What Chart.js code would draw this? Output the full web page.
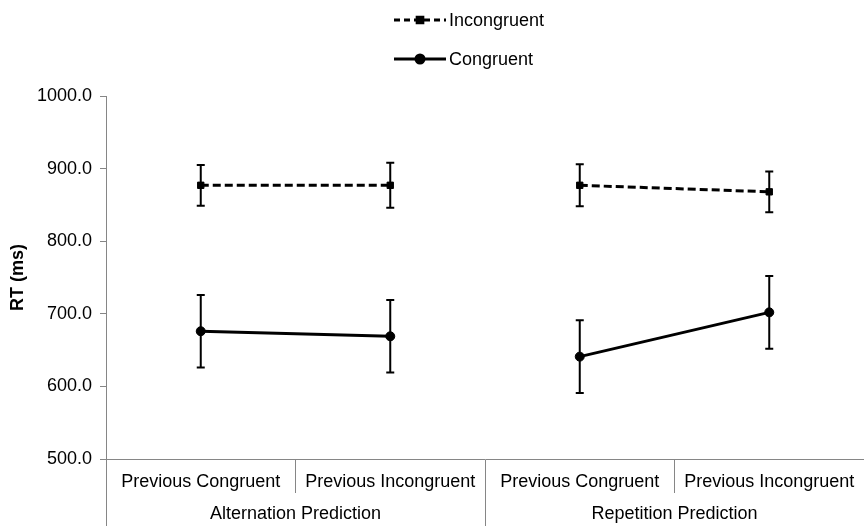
<!DOCTYPE html>
<html><head><meta charset="utf-8">
<script src="https://cdn.jsdelivr.net/npm/chart.js@4/dist/chart.umd.min.js"></script>
<style>html,body{margin:0;padding:0;background:#fff;overflow:hidden}#wrap{width:864px;height:526px;position:relative}canvas{display:block}</style>
</head><body><div id="wrap"><canvas id="c"></canvas></div>
<script>
const categories = ['Previous Congruent', 'Previous Incongruent', 'Previous Congruent', 'Previous Incongruent'];
const groups = ['Alternation Prediction', 'Repetition Prediction'];
const seriesNames = ['Incongruent', 'Congruent'];
const incongruentRT = [877, 877, 877, 868];
const incongruentErr = [28, 31, 29, 28];
const congruentRT = [676, 669, 641, 702];
const congruentErr = [50, 50, 50, 50];
const yTicks = [500, 600, 700, 800, 900, 1000];

const FONT = "'Liberation Sans', Arial, sans-serif";
const AXIS = '#868686';

const errorBars = {
  id: 'errorBars',
  afterDatasetsDraw(chart) {
    const ctx = chart.ctx, xs = chart.scales.x, ys = chart.scales.y;
    chart.data.datasets.forEach(ds => {
      if (!ds.errors) return;
      ctx.save();
      ctx.strokeStyle = '#000';
      ctx.lineWidth = 2;
      ctx.setLineDash([]);
      ds.data.forEach((v, i) => {
        const e = ds.errors[i];
        const x = xs.getPixelForValue(i);
        const y1 = ys.getPixelForValue(v + e), y2 = ys.getPixelForValue(v - e);
        ctx.beginPath();
        ctx.moveTo(x, y1); ctx.lineTo(x, y2);
        ctx.moveTo(x - 4, y1); ctx.lineTo(x + 4, y1);
        ctx.moveTo(x - 4, y2); ctx.lineTo(x + 4, y2);
        ctx.stroke();
      });
      ctx.restore();
    });
  }
};

const stackedLegend = {
  id: 'stackedLegend',
  afterDraw(chart, args, opts) {
    const ctx = chart.ctx;
    chart.data.datasets.forEach((ds, i) => {
      const y = opts.y[i];
      const x0 = opts.x, x1 = opts.x + opts.w;
      ctx.save();
      ctx.strokeStyle = ds.borderColor;
      ctx.lineWidth = ds.borderWidth;
      ctx.setLineDash(ds.legendDash || []);
      ctx.beginPath(); ctx.moveTo(x0, y); ctx.lineTo(x1, y); ctx.stroke();
      ctx.setLineDash([]);
      ctx.fillStyle = '#000'; ctx.strokeStyle = '#000';
      Chart.helpers.drawPoint(ctx, {pointStyle: ds.pointStyle, radius: 4, borderWidth: 1, rotation: 0}, (x0 + x1) / 2, y);
      ctx.fillStyle = '#000';
      ctx.font = '18px ' + FONT;
      ctx.textAlign = 'left';
      ctx.textBaseline = 'middle';
      ctx.fillText(ds.label, x1 + 3, y + 1);
      ctx.restore();
    });
  }
};

const hideGap = ctx => ctx.p0DataIndex === 1 ? 'rgba(0,0,0,0)' : undefined;

new Chart(document.getElementById('c'), {
  type: 'line',
  data: {
    labels: categories,
    datasets: [
      {
        label: seriesNames[0], data: incongruentRT, errors: incongruentErr,
        borderColor: '#000', backgroundColor: '#000', borderWidth: 3,
        borderDash: [8, 4], legendDash: [6, 4],
        pointStyle: 'rect', pointRadius: 4.5, pointBorderWidth: 1,
        segment: {borderColor: hideGap}
      },
      {
        label: seriesNames[1], data: congruentRT, errors: congruentErr,
        borderColor: '#000', backgroundColor: '#000', borderWidth: 3,
        pointStyle: 'circle', pointRadius: 4.5, pointBorderWidth: 1,
        segment: {borderColor: hideGap}
      }
    ]
  },
  options: {
    responsive: true, maintainAspectRatio: false, animation: false,
    layout: {autoPadding: false, padding: {top: 96, left: 0, right: 0, bottom: 0}},
    plugins: {
      legend: {display: false}, tooltip: {enabled: false},
      stackedLegend: {x: 394, w: 52, y: [20, 59]}
    },
    scales: {
      x: {
        type: 'category', offset: true, position: 'bottom',
        grid: {offset: true, drawOnChartArea: false, drawTicks: true, tickLength: 34, color: AXIS, lineWidth: 1},
        border: {display: true, color: AXIS, width: 1},
        ticks: {color: '#000', font: {family: FONT, size: 18}, padding: -21.8, maxRotation: 0, autoSkip: false},
        afterFit: s => { s.height = 34; s.paddingLeft = 0; s.paddingRight = 0; }
      },
      x2: {
        type: 'category', labels: groups, offset: true, position: 'bottom',
        grid: {offset: true, drawOnChartArea: false, drawTicks: true, tickLength: 33, color: AXIS, lineWidth: 1},
        border: {display: false},
        ticks: {color: '#000', font: {family: FONT, size: 18}, padding: -22.8, maxRotation: 0, autoSkip: false},
        afterFit: s => { s.height = 33; s.paddingLeft = 0; s.paddingRight = 0; }
      },
      y: {
        min: 500, max: 1000,
        grid: {display: true, drawOnChartArea: false, drawTicks: true, tickLength: 6, color: AXIS},
        border: {display: true, color: AXIS, width: 1},
        ticks: {color: '#000', font: {family: FONT, size: 18}, padding: 8, callback: v => Number(v).toFixed(1)},
        afterBuildTicks: s => { s.ticks = yTicks.map(v => ({value: v})); },
        title: {display: true, text: 'RT (ms)', color: '#000', font: {family: FONT, size: 18, weight: 'bold'}, padding: {top: 7, bottom: 1}},
        afterFit: s => { s.width = 106; }
      }
    }
  },
  plugins: [errorBars, stackedLegend]
});
</script>
</body></html>
